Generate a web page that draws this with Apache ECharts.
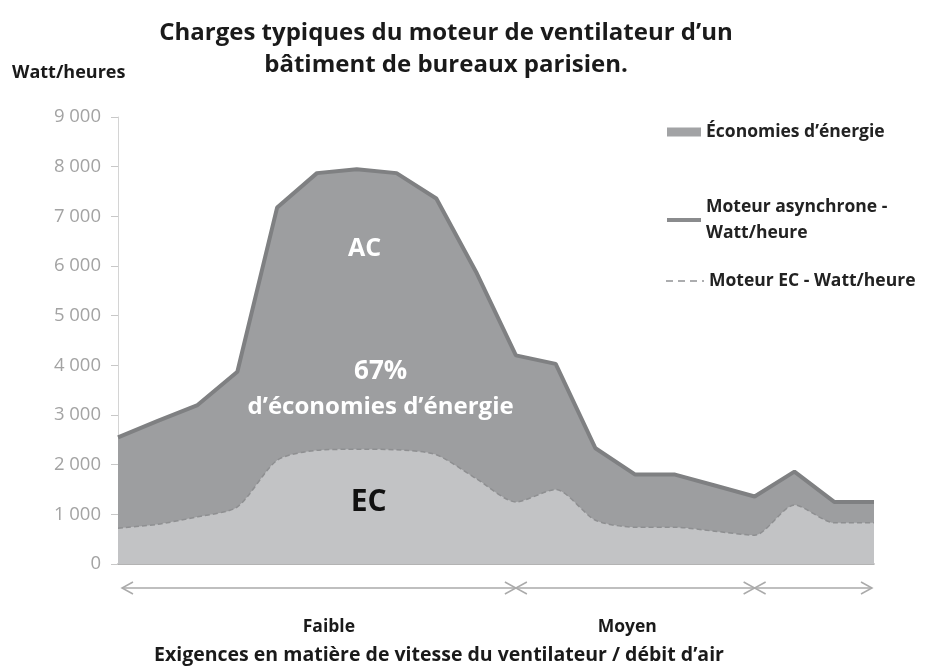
<!DOCTYPE html>
<html>
<head>
<meta charset="utf-8">
<script src="https://cdn.jsdelivr.net/npm/echarts@6/dist/echarts.min.js"></script>
<style>
  html, body { margin: 0; padding: 0; background: #fff; }
  #chart { width: 931px; height: 667px; }
</style>
</head>
<body>
<div id="chart"></div>
<script>
// points le long de l'axe (débit d'air)
const categories = ['1','2','3','4','5','6','7','8','9','10','11','12','13','14','15','16','17','18','19','20']
// Moteur asynchrone (AC) - Watt/heure
const acValues = [2550, 2880, 3200, 3870, 7180, 7870, 7950, 7870, 7360, 5880, 4200, 4030, 2330, 1800, 1800, 1580, 1360, 1860, 1250, 1250]
// Moteur EC - Watt/heure
const ecValues = [720, 800, 950, 1150, 2090, 2290, 2310, 2300, 2200, 1720, 1250, 1500, 880, 740, 740, 660, 580, 1190, 830, 830]
const yTicks = [0, 1000, 2000, 3000, 4000, 5000, 6000, 7000, 8000, 9000]
// zones de vitesse : [index début, index fin]
const zoneBounds = [[0, 10], [10, 16], [16, 19]]
// libellés des zones et leur position (index fractionnaire sur l'axe)
const zoneNames = ['Faible', 'Moyen']
const zoneLabelAt = [5.3, 12.8]

const FONT = '"Open Sans", "Noto Sans", sans-serif'
const chart = echarts.init(document.getElementById('chart'))

const legendText = { fontSize: 17.5, fontWeight: 'bold', color: '#222', fontFamily: FONT }

const option = {
  animation: false,
  textStyle: { fontFamily: FONT },
  title: {
    text: 'Charges typiques du moteur de ventilateur d\u2019un\nbâtiment de bureaux parisien.',
    left: 441,
    top: 12,
    textAlign: 'center',
    textStyle: { fontSize: 24, fontWeight: 'bold', color: '#1a1a1a', lineHeight: 32, fontFamily: FONT }
  },
  legend: [
    {
      data: [{ name: 'Économies d\u2019énergie', icon: 'rect', itemStyle: { color: '#a2a3a5' } }],
      left: 662, top: 118, itemWidth: 34, itemHeight: 9, itemGap: 8,
      textStyle: legendText
    },
    {
      data: [{ name: 'Moteur asynchrone - Watt/heure', icon: 'rect', itemStyle: { color: '#8a8b8d' } }],
      left: 662, top: 189, itemWidth: 34, itemHeight: 4, itemGap: 8,
      formatter: () => 'Moteur asynchrone -\nWatt/heure',
      textStyle: Object.assign({ lineHeight: 26 }, legendText)
    },
    {
      data: [{
        name: 'Moteur EC - Watt/heure',
        itemStyle: { opacity: 0 },
        lineStyle: { color: '#acadaf', width: 2, type: [7, 5] }
      }],
      left: 660, top: 267, itemWidth: 38, itemHeight: 14, itemGap: 8,
      textStyle: legendText
    }
  ],
  grid: { left: 118, right: 57, top: 117, bottom: 103 },
  xAxis: {
    type: 'category',
    data: categories,
    boundaryGap: false,
    axisLine: { lineStyle: { color: '#9a9a9a', width: 1.5 } },
    axisTick: { show: false },
    axisLabel: { show: false }
  },
  yAxis: {
    type: 'value',
    min: yTicks[0],
    max: yTicks[yTicks.length - 1],
    interval: 1000,
    axisLine: { show: true, lineStyle: { color: '#d4d4d4' } },
    axisTick: { show: true, length: 7, lineStyle: { color: '#c8c8c8' } },
    splitLine: { show: false },
    axisLabel: {
      margin: 17,
      fontSize: 18.5,
      color: '#a3a3a3',
      formatter: v => String(v).replace(/\B(?=(\d{3})+(?!\d))/g, ' ')
    }
  },
  series: [
    {
      name: 'Économies d\u2019énergie',
      type: 'line',
      data: [],
      itemStyle: { color: '#a2a3a5' }
    },
    {
      name: 'Moteur asynchrone - Watt/heure',
      type: 'line',
      data: acValues,
      symbol: 'none',
      lineStyle: { color: '#7f8082', width: 4 },
      itemStyle: { color: '#8a8b8d' },
      areaStyle: { color: '#9d9ea0', opacity: 1 },
      z: 2
    },
    {
      name: 'Moteur EC - Watt/heure',
      type: 'line',
      data: ecValues,
      symbol: 'none',
      smooth: 0.25,
      lineStyle: { color: '#8e8f91', width: 1.5, type: [5, 3] },
      itemStyle: { color: '#9a9b9d' },
      areaStyle: { color: '#c2c3c5', opacity: 1 },
      z: 3
    }
  ]
}
chart.setOption(option)

// annotations et flèches de zones, positionnées par les axes
function buildGraphics () {
  const px = i => chart.convertToPixel({ xAxisIndex: 0 }, i)
  const pxFrac = f => {
    const a = Math.floor(f)
    return px(a) + (f - a) * (px(a + 1) - px(a))
  }
  const yPx = v => chart.convertToPixel({ yAxisIndex: 0 }, v)
  const arrowY = 588
  const g = []
  const lineStyle = { stroke: '#aaaaaa', lineWidth: 1.5, fill: null }
  const left = px(zoneBounds[0][0]) + 4
  const right = px(zoneBounds[zoneBounds.length - 1][1]) - 2
  g.push({ type: 'line', shape: { x1: left, y1: arrowY, x2: right, y2: arrowY }, style: lineStyle })
  const chevron = (x, dir) => ({
    type: 'polyline',
    shape: { points: [[x + dir * 11, arrowY - 6], [x, arrowY], [x + dir * 11, arrowY + 6]] },
    style: lineStyle
  })
  g.push(chevron(left, 1))
  g.push(chevron(right, -1))
  zoneBounds.slice(1).forEach(z => {
    const x = px(z[0])
    g.push(chevron(x, -1))
    g.push(chevron(x, 1))
  })
  zoneNames.forEach((name, k) => {
    g.push({
      type: 'text',
      style: { text: name, x: pxFrac(zoneLabelAt[k]), y: 627, align: 'center', verticalAlign: 'middle',
        font: 'bold 17.5px ' + FONT, fill: '#1a1a1a' }
    })
  })
  g.push({
    type: 'text',
    style: { text: 'Exigences en matière de vitesse du ventilateur / débit d\u2019air', x: 439, y: 655,
      align: 'center', verticalAlign: 'middle', font: 'bold 19.5px ' + FONT, fill: '#1a1a1a' }
  })
  g.push({
    type: 'text',
    style: { text: 'Watt/heures', x: 12, y: 73, align: 'left', verticalAlign: 'middle', font: 'bold 18px ' + FONT, fill: '#1a1a1a' }
  })
  g.push({
    type: 'text', z: 10,
    style: { text: 'AC', x: pxFrac(6.2), y: yPx(6350), align: 'center', verticalAlign: 'middle', font: 'bold 25px ' + FONT, fill: '#fff' }
  })
  g.push({
    type: 'text', z: 10,
    style: { text: '67%', x: pxFrac(6.6), y: yPx(3880), align: 'center', verticalAlign: 'middle', font: 'bold 26px ' + FONT, fill: '#fff' }
  })
  g.push({
    type: 'text', z: 10,
    style: { text: 'd\u2019économies d\u2019énergie', x: pxFrac(6.6), y: yPx(3150), align: 'center', verticalAlign: 'middle',
      font: 'bold 24px ' + FONT, fill: '#fff' }
  })
  g.push({
    type: 'text', z: 10,
    style: { text: 'EC', x: pxFrac(6.3), y: yPx(1230), align: 'center', verticalAlign: 'middle', font: 'bold 30px ' + FONT, fill: '#111' }
  })
  chart.setOption({ graphic: g })
}
buildGraphics()
</script>
</body>
</html>
